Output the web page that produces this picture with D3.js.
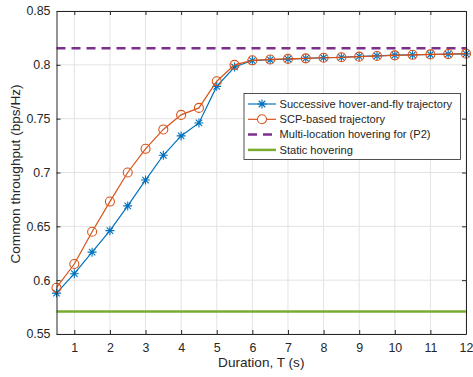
<!DOCTYPE html>
<html>
<head>
<meta charset="utf-8">
<script src="https://cdn.jsdelivr.net/npm/d3@7"></script>
<style>
  body { margin: 0; background: #fff; }
  text { font-family: "Liberation Sans", Arial, sans-serif; fill: #262626; }
</style>
</head>
<body>
<div id="chart"></div>
<script>
// durations T (s)
var durations = [0.5, 1, 1.5, 2, 2.5, 3, 3.5, 4, 4.5, 5, 5.5, 6, 6.5, 7, 7.5, 8, 8.5, 9, 9.5, 10, 10.5, 11, 11.5, 12];
var hoverFly = [0.588, 0.606, 0.626, 0.646, 0.669, 0.693, 0.716, 0.734, 0.746, 0.780, 0.798, 0.804, 0.8047, 0.8053, 0.806, 0.8066, 0.807, 0.8078, 0.8084, 0.809, 0.8093, 0.8096, 0.81, 0.8102];
var scpBased = [0.593, 0.615, 0.645, 0.673, 0.700, 0.722, 0.740, 0.7535, 0.760, 0.7848, 0.800, 0.8042, 0.805, 0.8055, 0.806, 0.8066, 0.807, 0.8076, 0.8082, 0.8088, 0.8093, 0.8097, 0.81, 0.8104];
var multiLocation = 0.8155;
var staticHover = 0.571;
var xTicks = [1, 2, 3, 4, 5, 6, 7, 8, 9, 10, 11, 12];
var yTicks = [0.55, 0.6, 0.65, 0.7, 0.75, 0.8, 0.85];
var legendLabels = ["Successive hover-and-fly trajectory", "SCP-based trajectory", "Multi-location hovering for (P2)", "Static hovering"];

var W = 473, H = 377;
var margin = { top: 11, right: 7, bottom: 43, left: 56.5 };
var width = W - margin.left - margin.right,
    height = H - margin.top - margin.bottom;

var svg = d3.select("#chart").append("svg")
    .attr("width", W).attr("height", H);
var g = svg.append("g")
    .attr("transform", "translate(" + margin.left + "," + margin.top + ")");

var x = d3.scaleLinear().domain([0.5, 12]).range([0, width]);
var y = d3.scaleLinear().domain([0.55, 0.85]).range([height, 0]);

// grid
g.append("g").selectAll("line").data(xTicks).enter().append("line")
    .attr("x1", function (d) { return x(d) }).attr("x2", function (d) { return x(d) })
    .attr("y1", 0).attr("y2", height)
    .attr("stroke", "#e3e3e3").attr("stroke-width", 1);
g.append("g").selectAll("line").data(yTicks).enter().append("line")
    .attr("x1", 0).attr("x2", width)
    .attr("y1", function (d) { return y(d) }).attr("y2", function (d) { return y(d) })
    .attr("stroke", "#e3e3e3").attr("stroke-width", 1);

// reference lines
g.append("line")
    .attr("x1", x(0.5)).attr("x2", x(12))
    .attr("y1", y(multiLocation)).attr("y2", y(multiLocation))
    .attr("stroke", "#7E2F8E").attr("stroke-width", 2.5)
    .attr("stroke-dasharray", "9,6");
g.append("line")
    .attr("x1", x(0.5)).attr("x2", x(12))
    .attr("y1", y(staticHover)).attr("y2", y(staticHover))
    .attr("stroke", "#77AC30").attr("stroke-width", 2.5);

var line = d3.line()
    .x(function (d) { return x(d[0]) })
    .y(function (d) { return y(d[1]) });

var blueData = durations.map(function (t, i) { return [t, hoverFly[i]] });
var orangeData = durations.map(function (t, i) { return [t, scpBased[i]] });

function starPath(r) {
    var s = r * 0.72;
    return "M" + (-r) + ",0L" + r + ",0M0," + (-r) + "L0," + r +
        "M" + (-s) + "," + (-s) + "L" + s + "," + s +
        "M" + (-s) + "," + s + "L" + s + "," + (-s);
}

g.append("path").datum(blueData)
    .attr("d", line).attr("fill", "none")
    .attr("stroke", "#0072BD").attr("stroke-width", 1.2);
g.append("g").selectAll("path").data(blueData).enter().append("path")
    .attr("transform", function (d) { return "translate(" + x(d[0]) + "," + y(d[1]) + ")" })
    .attr("d", starPath(4.5))
    .attr("fill", "none").attr("stroke", "#0072BD").attr("stroke-width", 1.1);

g.append("path").datum(orangeData)
    .attr("d", line).attr("fill", "none")
    .attr("stroke", "#D95319").attr("stroke-width", 1.2);
g.append("g").selectAll("circle").data(orangeData).enter().append("circle")
    .attr("cx", function (d) { return x(d[0]) })
    .attr("cy", function (d) { return y(d[1]) })
    .attr("r", 4.5)
    .attr("fill", "none").attr("stroke", "#D95319").attr("stroke-width", 1.1);

// axes (box with inward ticks)
var axisCol = "#262626";
var xAxisB = g.append("g").attr("transform", "translate(0," + height + ")")
    .call(d3.axisBottom(x).tickValues(xTicks).tickSizeInner(-4).tickSizeOuter(0).tickPadding(9).tickFormat(d3.format("d")));
var xAxisT = g.append("g")
    .call(d3.axisTop(x).tickValues(xTicks).tickSizeInner(-4).tickSizeOuter(0).tickFormat(""));
var yAxisL = g.append("g")
    .call(d3.axisLeft(y).tickValues(yTicks).tickSizeInner(-4).tickSizeOuter(0).tickPadding(6).tickFormat(function (d) { return d3.format("")(+d.toFixed(2)) }));
var yAxisR = g.append("g").attr("transform", "translate(" + width + ",0)")
    .call(d3.axisRight(y).tickValues(yTicks).tickSizeInner(-4).tickSizeOuter(0).tickFormat(""));
[xAxisB, xAxisT, yAxisL, yAxisR].forEach(function (a) {
    a.selectAll("path,line").attr("stroke", axisCol);
    a.selectAll("text").style("font-size", "12.4px").attr("fill", axisCol);
});

// axis labels
svg.append("text")
    .attr("x", margin.left + width / 2).attr("y", 367)
    .attr("text-anchor", "middle").style("font-size", "13.6px")
    .text("Duration, T (s)");
svg.append("text")
    .attr("transform", "translate(19.5,174) rotate(-90)")
    .attr("text-anchor", "middle").style("font-size", "13.6px")
    .text("Common throughput (bps/Hz)");

// legend
var legend = svg.append("g").attr("transform", "translate(244,93.5)");
legend.append("rect")
    .attr("width", 216.5).attr("height", 66)
    .attr("fill", "#fff").attr("stroke", axisCol).attr("stroke-width", 0.8);
var legendStyles = [
    { color: "#0072BD", marker: "star", dash: null, w: 1.2 },
    { color: "#D95319", marker: "circle", dash: null, w: 1.2 },
    { color: "#7E2F8E", marker: null, dash: "9,6", w: 2.5 },
    { color: "#77AC30", marker: null, dash: null, w: 2.5 }
];
legendLabels.forEach(function (label, i) {
    var st = legendStyles[i];
    var ly = 10.5 + i * 15.3;
    var row = legend.append("g").attr("transform", "translate(0," + ly + ")");
    row.append("line").attr("x1", 4).attr("x2", 32)
        .attr("stroke", st.color).attr("stroke-width", st.w)
        .attr("stroke-dasharray", st.dash);
    if (st.marker === "star") {
        row.append("path").attr("transform", "translate(18,0)").attr("d", starPath(4.5))
            .attr("fill", "none").attr("stroke", st.color).attr("stroke-width", 1.1);
    } else if (st.marker === "circle") {
        row.append("circle").attr("cx", 18).attr("cy", 0).attr("r", 4.5)
            .attr("fill", "#fff").attr("stroke", st.color).attr("stroke-width", 1.1);
    }
    row.append("text").attr("x", 35.5).attr("dy", "0.35em")
        .style("font-size", "11.1px").text(label);
});
</script>
</body>
</html>
